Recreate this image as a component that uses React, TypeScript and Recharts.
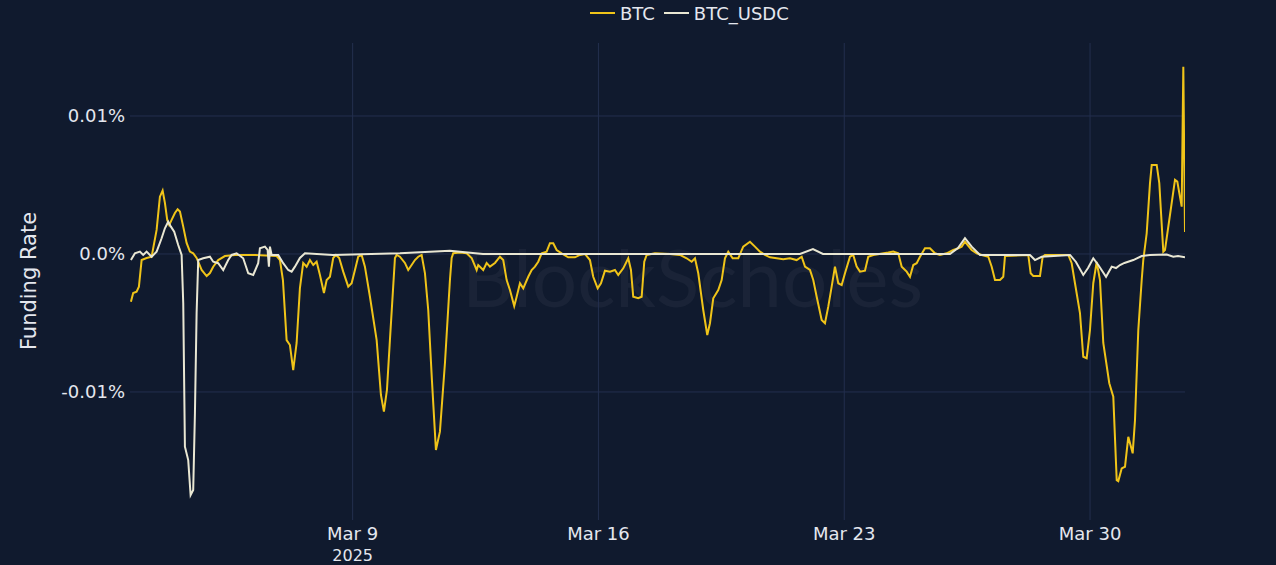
import React from 'react';
import { LineChart, Line, XAxis, YAxis, CartesianGrid } from 'recharts';

// funding rate, in percent; x positions are day-of-March (values past 31 run into April)
const btcDay = [
  2.686, 2.751, 2.848, 2.914, 2.991, 3.133, 3.276, 3.418, 3.512, 3.589,
  3.654, 3.72, 3.777, 3.845, 3.939, 4.016, 4.082, 4.176, 4.272, 4.366,
  4.46, 4.557, 4.7, 4.842, 4.936, 5.03, 5.172, 5.363, 5.648, 6.218,
  6.836, 6.93, 7.015, 7.12, 7.214, 7.308, 7.405, 7.499, 7.593, 7.69,
  7.784, 7.878, 7.975, 8.069, 8.183, 8.26, 8.354, 8.447, 8.524, 8.618,
  8.732, 8.875, 8.972, 9.066, 9.159, 9.256, 9.35, 9.493, 9.684, 9.806,
  9.891, 9.977, 10.062, 10.205, 10.253, 10.347, 10.489, 10.583, 10.68, 10.774,
  10.868, 10.965, 11.059, 11.153, 11.258, 11.372, 11.486, 11.629, 11.771, 11.82,
  11.865, 12.056, 12.247, 12.389, 12.532, 12.577, 12.719, 12.816, 12.91, 13.053,
  13.195, 13.289, 13.386, 13.48, 13.602, 13.671, 13.765, 13.859, 14.001, 14.098,
  14.192, 14.286, 14.383, 14.525, 14.619, 14.713, 14.81, 14.952, 15.14, 15.331,
  15.474, 15.616, 15.758, 15.852, 15.978, 16.072, 16.186, 16.328, 16.47, 16.564,
  16.707, 16.849, 16.926, 16.991, 17.134, 17.231, 17.305, 17.373, 17.61, 18.037,
  18.322, 18.512, 18.655, 18.749, 18.843, 18.985, 19.099, 19.176, 19.27, 19.412,
  19.509, 19.603, 19.697, 19.822, 19.982, 20.124, 20.315, 20.457, 20.6, 20.742,
  20.885, 21.076, 21.263, 21.454, 21.645, 21.788, 21.882, 22.024, 22.118, 22.215,
  22.357, 22.451, 22.545, 22.642, 22.736, 22.83, 22.927, 23.021, 23.163, 23.257,
  23.354, 23.448, 23.59, 23.684, 23.827, 24.254, 24.396, 24.539, 24.636, 24.778,
  24.872, 24.966, 25.063, 25.157, 25.299, 25.441, 25.584, 25.726, 25.917, 26.105,
  26.247, 26.344, 26.438, 26.515, 26.629, 26.772, 26.914, 27.102, 27.199, 27.293,
  27.435, 27.529, 27.578, 28.241, 28.309, 28.384, 28.574, 28.651, 28.717, 29.38,
  29.477, 29.571, 29.713, 29.807, 29.904, 29.998, 30.092, 30.189, 30.283, 30.377,
  30.548, 30.662, 30.759, 30.804, 30.901, 30.995, 31.089, 31.214, 31.28, 31.374,
  31.471, 31.516, 31.613, 31.707, 31.756, 31.898, 31.972, 32.086, 32.134, 32.419,
  32.485, 32.61, 32.656, 32.704,
];

const btcRate = [
  -0.00346, -0.00283, -0.00273, -0.00237, -0.00044, -0.00029, -0.0002, 0.00174, 0.00415, 0.00459,
  0.0037, 0.00247, 0.0021, 0.00247, 0.00297, 0.00324, 0.00307, 0.00198, 0.0008, 0.00017,
  0.00005, -0.00029, -0.00116, -0.0016, -0.00138, -0.00092, -0.00044, -0.00015, -0.00007, -0.00007,
  -0.00015, -0.00044, -0.00189, -0.00624, -0.0066, -0.00841, -0.00645, -0.00247, -0.00065, -0.00092,
  -0.00044, -0.0008, -0.00056, -0.00152, -0.00283, -0.00189, -0.00165, -0.00029, -0.00007, -0.00029,
  -0.00128, -0.00237, -0.00212, -0.00116, -0.0002, -0.00007, -0.00092, -0.0031, -0.00624, -0.01022,
  -0.01143, -0.00986, -0.00624, -0.00029, -0.00007, -0.0002, -0.00065, -0.00116, -0.0008, -0.00044,
  -0.0002, -0.00007, -0.00138, -0.00406, -0.00914, -0.01421, -0.01288, -0.0079, -0.00189, -0.00029,
  0.00005, 0.0001, 0.00005, -0.00029, -0.00116, -0.0008, -0.00116, -0.00065, -0.00092, -0.00065,
  -0.0002, -0.00044, -0.00189, -0.00261, -0.00377, -0.0031, -0.00212, -0.00249, -0.00165, -0.00116,
  -0.00092, -0.00056, 0.00005, 0.00017, 0.00078, 0.00078, 0.00029, 0.00005, -0.00024, -0.00024,
  -0.00007, 0, -0.00044, -0.00165, -0.00249, -0.00212, -0.00121, -0.00128, -0.00116, -0.00152,
  -0.00104, -0.00031, -0.00116, -0.0031, -0.00321, -0.0031, -0.00056, -0.00007, 0.00005, 0,
  -0.00007, -0.00031, -0.00056, -0.00031, -0.0014, -0.00406, -0.00587, -0.00502, -0.00321, -0.00261,
  -0.00189, -0.00031, 0.00017, -0.00031, -0.00031, 0.00053, 0.00089, 0.00053, 0.00017, -0.00007,
  -0.00024, -0.00031, -0.00038, -0.00031, -0.00044, -0.0002, -0.00092, -0.00116, -0.00189, -0.0031,
  -0.00479, -0.00502, -0.00382, -0.00237, -0.00092, -0.00212, -0.00225, -0.0014, -0.0002, -0.00007,
  -0.00092, -0.00128, -0.00121, -0.0002, -0.00007, 0.0001, 0.00017, 0.00005, -0.00092, -0.00128,
  -0.00165, -0.0008, -0.00067, -0.0002, 0.00041, 0.00041, 0.00005, -0.00007, 0.00005, 0.00029,
  0.00041, 0.00053, 0.00089, 0.00065, 0.00029, 0.00005, -0.00007, -0.0002, -0.00092, -0.00189,
  -0.00189, -0.00165, -0.00015, -0.00007, -0.0014, -0.0016, -0.0016, -0.0002, -0.00007, -0.00007,
  -0.00067, -0.00212, -0.00428, -0.00745, -0.00756, -0.00551, -0.00212, -0.00058, -0.00189, -0.00645,
  -0.00937, -0.01035, -0.01639, -0.01646, -0.01554, -0.01542, -0.01325, -0.01445, -0.01204, -0.00551,
  -0.00189, -0.00044, 0.0015, 0.00513, 0.00645, 0.00645, 0.00513, 0.00017, 0.00029, 0.00537,
  0.00524, 0.00343, 0.01356, 0.0016,
];

const usdcDay = [
  2.686, 2.8, 2.942, 3.036, 3.133, 3.276, 3.418, 3.56, 3.654, 3.748,
  3.825, 3.919, 4.033, 4.13, 4.176, 4.224, 4.318, 4.386, 4.46, 4.509,
  4.557, 4.603, 4.745, 4.936, 5.03, 5.172, 5.315, 5.457, 5.554, 5.696,
  5.884, 6.027, 6.169, 6.311, 6.36, 6.502, 6.579, 6.616, 6.645, 6.693,
  6.881, 7.023, 7.166, 7.263, 7.357, 7.499, 7.642, 8.439, 10.347, 11.771,
  12.711, 16.043, 18.122, 21.739, 22.109, 22.394, 26.011, 26.239, 26.438, 26.629,
  26.866, 28.289, 28.432, 28.622, 29.429, 29.599, 29.807, 29.942, 30.092, 30.235,
  30.455, 30.617, 30.739, 30.853, 30.979, 31.231, 31.471, 31.707, 32.183, 32.371,
  32.505, 32.704,
];

const usdcRate = [
  -0.00044, 0.00005, 0.00017, -0.00007, 0.00017, -0.0002, 0.00017, 0.00114, 0.00186, 0.00234,
  0.00198, 0.00162, 0.00065, -0.00007, -0.00355, -0.01397, -0.01494, -0.01747, -0.01711, -0.01155,
  -0.00428, -0.00044, -0.00031, -0.0002, -0.00056, -0.00067, -0.00116, -0.00044, -0.00007, 0.00005,
  -0.00031, -0.0014, -0.00152, -0.00067, 0.00041, 0.00053, 0.00029, -0.00092, 0.00053, -0.00007,
  -0.00007, -0.00067, -0.00116, -0.00128, -0.00092, -0.00029, 0.00005, -0.00007, 0.00005, 0.00024,
  0, 0, 0, 0, 0.00036, 0, 0, 0.00043, 0.00114, 0.00053,
  -0.00007, -0.00007, -0.00044, -0.0002, -0.00007, -0.00058, -0.00152, -0.00102, -0.00031, -0.0008,
  -0.00165, -0.00092, -0.00102, -0.0008, -0.00065, -0.00044, -0.00015, -0.00007, -0.00004, -0.0002,
  -0.00015, -0.00024,
];

const tickDays = [9, 16, 23, 30];
const rateTicks = [-0.01, 0, 0.01];
const MONTHS = ['Jan', 'Feb', 'Mar', 'Apr', 'May', 'Jun', 'Jul', 'Aug', 'Sep', 'Oct', 'Nov', 'Dec'];

const DAY = 86400000;
const MARCH_1 = Date.UTC(2025, 2, 1);
const toTime = (day: number) => MARCH_1 + (day - 1) * DAY;

const btcData = btcDay.map((d, i) => ({ t: toTime(d), rate: btcRate[i] }));
const usdcData = usdcDay.map((d, i) => ({ t: toTime(d), rate: usdcRate[i] }));
const tickTimes = tickDays.map(toTime);

const BG = '#101a2e';
const GRID = '#232f4e';
const TEXT = '#e4e7ee';
const BTC_COLOR = '#f0c419';
const USDC_COLOR = '#e9e7d3';
const FONT = '"DejaVu Sans", Verdana, sans-serif';

const formatRate = (v: number) => (v === 0 ? '0.0%' : `${v}%`);

const DateTick = (props: any) => {
  const { x, y, payload } = props;
  const d = new Date(payload.value);
  const label = `${MONTHS[d.getUTCMonth()]} ${d.getUTCDate()}`;
  const first = payload.value === tickTimes[0];
  return (
    <g>
      <text x={x} y={y + 20} textAnchor="middle" fill={TEXT} fontSize={18} fontFamily={FONT}>
        {label}
      </text>
      {first && (
        <text x={x} y={y + 41} textAnchor="middle" fill={TEXT} fontSize={16} fontFamily={FONT}>
          {d.getUTCFullYear()}
        </text>
      )}
    </g>
  );
};

const LegendItem = ({ color, label }: { color: string; label: string }) => (
  <div style={{ display: 'flex', alignItems: 'center', marginRight: 9 }}>
    <div style={{ width: 25, height: 2, background: color, marginRight: 5 }} />
    <span>{label}</span>
  </div>
);

const App: React.FC = () => {
  return (
    <div
      style={{
        position: 'fixed',
        left: 0,
        top: 0,
        width: 1276,
        height: 565,
        background: BG,
        overflow: 'hidden',
        fontFamily: FONT,
        color: TEXT,
      }}
    >
      <div
        style={{
          position: 'absolute',
          left: 462,
          top: 228,
          fontSize: 80,
          fontFamily: 'Lato, "Open Sans", sans-serif',
          color: 'rgba(255,255,255,0.045)',
          whiteSpace: 'nowrap',
        }}
      >
        BlockScholes
      </div>

      <div
        style={{
          position: 'absolute',
          left: 590,
          top: 2,
          height: 22,
          display: 'flex',
          alignItems: 'center',
          fontSize: 18,
          whiteSpace: 'nowrap',
        }}
      >
        <LegendItem color={BTC_COLOR} label="BTC" />
        <LegendItem color={USDC_COLOR} label="BTC_USDC" />
      </div>

      <div
        style={{
          position: 'absolute',
          left: 29,
          top: 281,
          fontSize: 21,
          whiteSpace: 'nowrap',
          transform: 'translate(-50%, -50%) rotate(-90deg)',
        }}
      >
        Funding Rate
      </div>

      <div style={{ position: 'absolute', left: 0, top: 0 }}>
        <LineChart width={1276} height={565} margin={{ top: 43, right: 91, bottom: 0, left: 0 }}>
          <CartesianGrid
            stroke={GRID}
            strokeWidth={1}
            horizontalValues={rateTicks}
            verticalValues={tickTimes}
          />
          <XAxis
            dataKey="t"
            type="number"
            scale="linear"
            domain={[toTime(2.66), toTime(32.704)]}
            allowDataOverflow
            ticks={tickTimes}
            tick={<DateTick />}
            axisLine={false}
            tickLine={false}
            tickSize={0}
            tickMargin={0}
            height={45}
          />
          <YAxis
            type="number"
            domain={[-0.01928, 0.01529]}
            allowDataOverflow
            ticks={rateTicks}
            tickFormatter={formatRate}
            tick={{ fill: TEXT, fontSize: 18, fontFamily: FONT }}
            axisLine={false}
            tickLine={false}
            tickSize={0}
            tickMargin={5}
            width={130}
          />
          <Line
            data={btcData}
            dataKey="rate"
            name="BTC"
            type="linear"
            stroke={BTC_COLOR}
            strokeWidth={2}
            dot={false}
            isAnimationActive={false}
          />
          <Line
            data={usdcData}
            dataKey="rate"
            name="BTC_USDC"
            type="linear"
            stroke={USDC_COLOR}
            strokeWidth={2}
            dot={false}
            isAnimationActive={false}
          />
        </LineChart>
      </div>
    </div>
  );
};

export default App;
